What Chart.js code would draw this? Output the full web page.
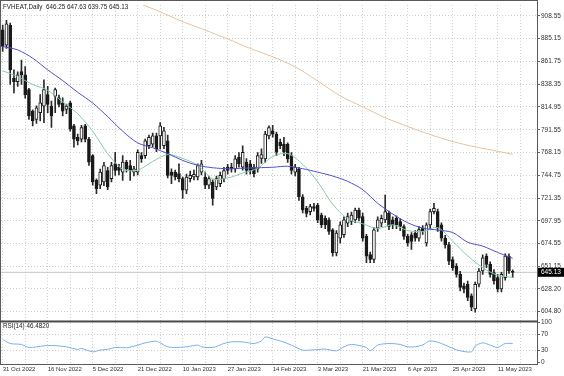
<!DOCTYPE html>
<html>
<head>
<meta charset="utf-8">
<style>
  html, body { margin: 0; padding: 0; background: #fff; }
  #wrap { position: relative; width: 564px; height: 376px; }
  canvas { display: block; }
</style>
<script src="https://cdn.jsdelivr.net/npm/chart.js@4.4.0/dist/chart.umd.min.js"></script>
</head>
<body>
<div id="wrap"><canvas id="chart" width="564" height="376"></canvas></div>
<script>
const symbolLabel = 'FVHEAT,Daily';
const rsiLabel = 'RSI(14)';
const rsiLast = 46.4820;

// one label every 12 daily bars, starting at bar 0
const dateLabels = ['31 Oct 2022', '16 Nov 2022', '5 Dec 2022', '21 Dec 2022', '10 Jan 2023', '27 Jan 2023',
  '14 Feb 2023', '3 Mar 2023', '21 Mar 2023', '6 Apr 2023', '25 Apr 2023', '11 May 2023'];
const priceTicks = [908.55, 885.15, 861.75, 838.35, 814.95, 791.55, 768.15, 744.75, 721.35, 697.95, 674.55, 651.15, 628.20, 604.80];
const rsiTicks = [100, 70, 30, 0];

// daily candles, bar 0 .. 136
const opens = [894, 878.4, 898.7, 844.5, 841, 851.3, 848, 832.7, 810.7, 802.2,
  809, 815.8, 827.6, 815.8, 826, 824.2, 819.2, 812.4, 819.2, 795.5,
  783.6, 781.9, 795.5, 781.9, 765, 739.6, 734.5, 737.9, 749.7, 741.3,
  756.5, 753.1, 748, 758.2, 754.8, 748, 748, 765, 765, 775.1,
  776.8, 785.3, 785.3, 775.1, 780.2, 748, 748, 746.4, 741.3, 729.4,
  741.3, 743, 743, 748, 743, 734.5, 737.9, 732.8, 736.2, 741.3,
  753.1, 753.1, 751.4, 763.3, 753.1, 758.2, 756.5, 753.1, 751.4, 762,
  761.6, 785.3, 790.4, 787, 778.5, 776.8, 776.8, 765, 748, 751.4,
  722.7, 710.8, 707.4, 712.5, 714, 704, 700.6, 699, 688.8, 665,
  680.3, 683.7, 695.6, 697.3, 699, 709, 702.3, 682, 663.4, 658.3,
  690.5, 695.6, 699, 705.7, 699, 700.6, 697.3, 692.2, 682, 683.7,
  685.4, 680.3, 690.5, 675.2, 693.9, 707.4, 707.4, 693.9, 680.3, 673.6,
  658.3, 651.5, 643, 631.2, 632.9, 621, 607.5, 632.9, 646.5, 661.7,
  653.2, 644.8, 639.7, 628, 639.7, 661.7, 646.25];
const highs = [899, 904, 901, 853, 851, 863, 856.4, 834, 812, 816,
  827.6, 842.9, 836, 820.9, 834.4, 827, 824.2, 818, 821, 797,
  787, 796, 797, 783.6, 766, 741, 751, 758, 753, 758,
  768.4, 756, 765, 760, 760, 754, 771, 768, 782, 786,
  788, 788, 798.8, 794, 786, 751.4, 750, 756.5, 743, 746,
  749, 750, 756.5, 760, 748, 744, 740, 744, 748, 753,
  756, 757, 765, 768, 775, 762, 760, 756, 768, 772,
  790, 795.5, 796, 789, 782, 783.6, 778, 768, 756, 753,
  725, 713, 715, 716, 716, 706, 703, 701, 690, 688,
  697, 702, 706, 707, 711, 711, 706, 684, 666, 691,
  702, 704, 724.4, 708, 702, 703, 700, 694, 684, 686,
  688, 692, 693, 696, 710, 716, 710, 696, 683, 676,
  661, 654, 646, 634, 636, 623, 635, 649, 663, 664,
  656, 648, 643, 645, 664, 664, 647.63];
const lows = [872, 875, 838, 829.3, 836, 838, 824, 802, 795.5, 798,
  800.5, 798.8, 809, 793.8, 809, 815, 805.6, 808, 790, 773.5,
  776, 779, 779, 755, 734.5, 726, 731, 734, 730, 738,
  744.7, 745, 739.6, 748, 739.6, 744, 745, 758, 762, 772,
  774, 769, 771.8, 772, 742, 736.2, 740, 737.9, 721, 726,
  738, 740, 740, 745, 731, 731, 714, 730, 733, 738,
  746, 748, 748, 753, 750, 746, 746, 743, 748, 757,
  758, 782, 784, 765, 772, 765, 758, 746, 744, 719,
  706, 702, 704, 708, 696, 691, 690, 684, 661.7, 662,
  675, 681, 692, 694, 696, 698, 677, 655, 655, 655,
  687, 692, 696, 689, 690, 690, 688, 679, 672, 668.5,
  677, 677, 684, 672, 690, 705, 687, 677, 670, 653,
  647, 640, 626, 624, 616, 605.8, 604.1, 630, 643, 650,
  640, 633, 625, 625, 637, 644, 639.75];
const closes = [877, 900.4, 853, 841, 848, 848, 827.6, 805.6, 800.5, 814.1,
  819.2, 832.7, 817.5, 805.6, 832.7, 817.5, 810.7, 815.8, 792.1, 781.9,
  780.2, 793.8, 781.9, 758.2, 737.9, 731.1, 748, 754.8, 732.8, 754.8,
  749.7, 749.7, 758.2, 751.4, 749.7, 751.4, 768.4, 761.6, 780.2, 783.6,
  785.3, 771.8, 795.5, 790.4, 744.7, 744.7, 743, 741.3, 729.4, 743,
  744.7, 745.7, 754.8, 756.5, 734.5, 741.3, 721, 741.3, 744.7, 749.7,
  749.7, 751.4, 761.6, 756.5, 768.4, 749.7, 749.7, 746.4, 765, 766,
  787, 793.8, 787, 768.4, 775.1, 768.4, 761.6, 749.7, 753.1, 722.7,
  709.1, 705.7, 712.5, 710.8, 699, 693.9, 693.9, 687, 665, 685.4,
  693.9, 699, 702.3, 704, 709, 700.6, 680.3, 661.7, 658.3, 688.8,
  699, 700.6, 707.4, 692.2, 693.9, 693.9, 692.2, 682, 675.2, 676.9,
  680.3, 689, 687.1, 693.9, 707.4, 710.8, 690.5, 680.3, 673.6, 656.6,
  649.8, 643, 629.5, 627.8, 619.4, 609.2, 632.9, 646.5, 660, 653.2,
  643, 636.3, 627.8, 643, 661.7, 646.5, 645.13];

// moving averages at sample bars
const maBars = [0, 4, 8, 12, 16, 20, 24, 28, 32, 36, 40, 44, 48, 52, 56, 60, 64, 68,
  72, 76, 80, 84, 88, 92, 96, 100, 104, 108, 112, 116, 120, 124, 128, 132, 136];
const maSlow = [877, 873.5, 865, 853, 842, 830, 819, 805, 790, 778, 773, 767, 760, 755, 752.5, 751.5, 752, 752.5,
  753, 754, 751.5, 748, 744, 738.5, 730, 716, 705, 696, 690.5, 688.5, 686, 676, 672, 665.5, 659.5];
const maFast = [852, 846, 838, 832, 820, 808, 790, 767, 751, 750, 759, 766, 762, 755, 741, 742, 747, 752,
  764, 767, 756, 738, 715, 700, 695, 690, 694, 688, 687, 691, 677, 662, 650, 642, 640];
const maLongBars = [36, 42, 48, 54, 60, 66, 72, 78, 84, 90, 96, 102, 108, 114, 120, 126, 132, 136];
const maLong = [921.8, 912.6, 902.5, 893.8, 884.7, 875, 866.4, 856.2, 841.5, 826.3, 815, 803.9, 794.8, 786.6,
  779.4, 773.9, 769.4, 766.3];

// RSI(14)
const rsiBars = [0, 2, 5, 7, 11, 13, 17, 20, 21, 24, 26, 28, 30, 33, 36, 38, 41, 42, 44, 46, 49, 52, 53, 56, 59,
  61, 64, 67, 69, 70, 72, 74, 77, 80, 82, 86, 89, 91, 93, 97, 98, 100, 103, 106, 108, 110, 112, 114, 117,
  120, 122, 125, 126, 128, 130, 132, 134, 136];
const rsiVals = [56.8, 46.9, 44.5, 37.1, 41, 42, 38.6, 32.2, 34.6, 26.3, 30.5, 32.2, 37.1, 36.1, 42.8, 48.4, 52.6,
  48.4, 38.6, 37.1, 38.6, 42.8, 38.6, 37.1, 46.9, 50.9, 50.9, 46.9, 53.3, 63.1, 58.2, 53.3, 42.8, 30.5, 30.5,
  32.9, 28.7, 38.6, 44.5, 37.1, 28.7, 42.8, 46.9, 44.5, 38.6, 38.6, 43.5, 53.3, 46.9, 34.6, 28.7, 26.3, 40.3,
  48.4, 42.8, 37.1, 46.9, 46.48];

const FONT = 'Liberation Sans, Arial, sans-serif';
const GRID = '#cdcdcd';
const lastI = closes.length - 1;

const bodyData = opens.map((o, i) => ({ x: i, y: [o, closes[i]] }));
const wickData = opens.map((o, i) => ({ x: i, y: [lows[i], highs[i]] }));
const pts = (xs, ys) => xs.map((x, i) => ({ x, y: ys[i] }));
const gridBars = Array.from({ length: 24 }, (_, k) => k * 6);

const frame = {
  id: 'frame',
  afterDraw(chart) {
    const { ctx, chartArea: a } = chart;
    const y = chart.scales.y;
    ctx.save();
    ctx.strokeStyle = '#5a5a5a';
    ctx.lineWidth = 1;
    ctx.strokeRect(0.5, 0.5, a.right, a.bottom);
    ctx.fillStyle = '#4a4a4a';
    ctx.fillRect(0, y.bottom, a.right + 1, 2);

    ctx.font = '6.3px ' + FONT;
    ctx.textBaseline = 'middle';
    ctx.fillStyle = '#222';
    const ohlc = [opens[lastI], highs[lastI], lows[lastI], closes[lastI]].map(v => v.toFixed(2)).join(' ');
    ctx.fillText(symbolLabel + '  ' + ohlc, 3, 7);
    ctx.fillText(rsiLabel + ' ' + rsiLast.toFixed(4), 3, y.bottom + 6);

    // last price tag on the axis
    const py = y.getPixelForValue(closes[lastI]);
    ctx.fillStyle = '#000';
    ctx.fillRect(a.right + 1, py - 4.5, 564 - a.right, 9);
    ctx.fillStyle = '#fff';
    ctx.font = '6.5px ' + FONT;
    ctx.fillText(closes[lastI].toFixed(2), a.right + 4, py);
    ctx.restore();
  }
};

Chart.defaults.font.family = FONT;
Chart.defaults.color = '#333';

new Chart(document.getElementById('chart'), {
  type: 'line',
  data: {
    datasets: [
      { type: 'line', data: pts(maLongBars, maLong), borderColor: '#e6c39e', borderWidth: 1, pointRadius: 0, tension: 0.3, yAxisID: 'y' },
      { type: 'line', data: pts(maBars, maSlow), borderColor: '#5050d0', borderWidth: 1, pointRadius: 0, tension: 0.3, yAxisID: 'y' },
      { type: 'line', data: pts(maBars, maFast), borderColor: '#86cca6', borderWidth: 1, pointRadius: 0, tension: 0.3, yAxisID: 'y' },
      {
        type: 'bar', data: bodyData, yAxisID: 'y', grouped: false, barThickness: 3, minBarLength: 1,
        borderWidth: 1, borderSkipped: false, borderColor: '#1a1a1a',
        backgroundColor: c => closes[c.dataIndex] >= opens[c.dataIndex] ? '#fff' : '#1a1a1a'
      },
      { type: 'bar', data: wickData, yAxisID: 'y', grouped: false, barThickness: 1, borderWidth: 0, backgroundColor: '#2a2a2a' },
      { type: 'line', data: pts([-1, 143], [closes[lastI], closes[lastI]]), borderColor: '#c4c4c4', borderWidth: 1, pointRadius: 0, yAxisID: 'y' },
      { type: 'line', data: pts(rsiBars, rsiVals), borderColor: '#78b0ea', borderWidth: 1, pointRadius: 0, tension: 0.3, yAxisID: 'rsi' }
    ]
  },
  options: {
    responsive: false,
    animation: false,
    devicePixelRatio: 1,
    layout: { padding: { left: 1, top: 1, right: 0, bottom: 0 } },
    plugins: { legend: { display: false }, tooltip: { enabled: false } },
    scales: {
      x: {
        type: 'linear', min: -0.453, max: 142.48, offset: false,
        afterBuildTicks: s => { s.ticks = gridBars.map(v => ({ value: v })); },
        afterFit: s => { s.height = 12; },
        grid: { color: GRID, drawTicks: false, offset: false },
        border: { display: false, dash: [1, 2] },
        ticks: {
          autoSkip: false, maxRotation: 0, minRotation: 0, align: 'start', padding: 2,
          font: { size: 6 }, color: '#333',
          callback: v => (v % 12 === 0 ? dateLabels[v / 12] || '' : '')
        }
      },
      y: {
        type: 'linear', position: 'right', stack: 'v', stackWeight: 319,
        min: 595.66, max: 919.72,
        afterBuildTicks: s => { s.ticks = priceTicks.map(v => ({ value: v })); },
        afterFit: s => { s.width = 27; },
        grid: { color: GRID, tickLength: 3, tickColor: '#666' },
        border: { display: false, dash: [1, 2] },
        ticks: { autoSkip: false, padding: 1, font: { size: 6.5 }, color: '#333', callback: v => v.toFixed(2) }
      },
      rsi: {
        type: 'linear', position: 'right', stack: 'v', stackWeight: 44,
        min: -4, max: 104,
        afterBuildTicks: s => { s.ticks = rsiTicks.map(v => ({ value: v })); },
        afterFit: s => { s.width = 27; },
        grid: {
          color: c => (c.tick && (c.tick.value === 70 || c.tick.value === 30) ? GRID : 'rgba(0,0,0,0)'),
          tickLength: 3, tickColor: '#666'
        },
        border: { display: false, dash: [1, 2] },
        ticks: { autoSkip: false, padding: 1, font: { size: 6.5 }, color: '#333' }
      }
    }
  },
  plugins: [frame]
});
</script>
</body>
</html>
